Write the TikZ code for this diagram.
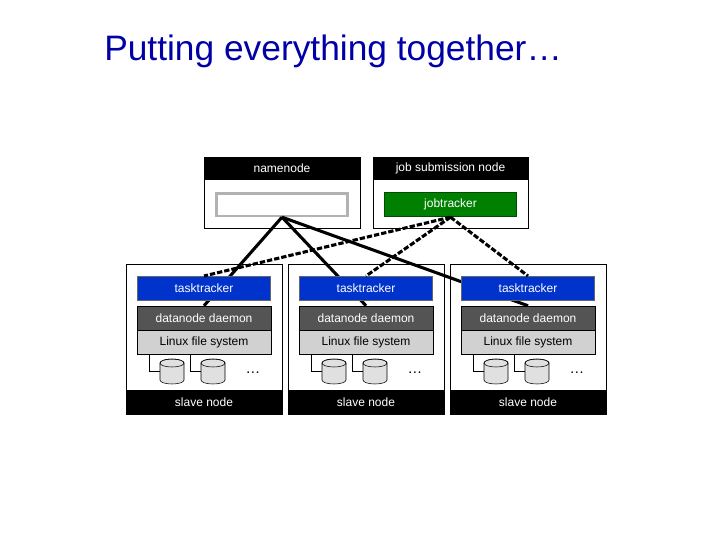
\documentclass[tikz,border=0pt]{standalone}
\usepackage{fontspec}
\setmainfont{Liberation Sans}
\begin{document}
\begin{tikzpicture}[x=0.75pt,y=-0.75pt,
  box/.style={draw=black,fill=white,line width=0.6pt},
  lbl/.style={font=\fontsize{9}{10}\selectfont},
  tt/.style={draw=black!60,fill=blue!75!cyan!80!black,text=white,lbl,line width=0.8pt},
  dn/.style={draw=black,fill=black!67,text=white,lbl},
  lfs/.style={draw=black,fill=black!18,text=black,lbl},
  nn/.style={line width=2.3pt},
  jt/.style={line width=2.3pt,dash pattern=on 4pt off 1.5pt}]
\useasboundingbox (0,0) rectangle (720,540);
\node[anchor=base west,inner sep=0pt,text=blue!65!black,font=\fontsize{26.5}{30}\selectfont] (title) at (104,60) {Putting everything together…};
% namenode
\node[box,minimum width=117pt,minimum height=53.25pt,anchor=north west] (nnbox) at (204,157) {};
\fill[black] (204,157) rectangle (360,180);
\node[text=white,lbl] (nnh) at (282,168) {namenode};
\node[draw=black!30,line width=2pt,fill=white,minimum width=98pt,minimum height=17pt] (nn) at (282,204.5) {};
% job submission
\node[box,minimum width=116.25pt,minimum height=53.25pt,anchor=north west] (jsbox) at (373,157) {};
\fill[black] (373,157) rectangle (528,180);
\node[text=white,lbl] (jsh) at (450.5,168) {job submission node};
\node[draw=green!30!black,line width=1pt,fill=green!50!black,text=white,lbl,minimum width=99pt,minimum height=18pt] (jt) at (450.5,204.5) {jobtracker};
% slaves
\foreach \i/\x in {1/126,2/288,3/450}{
  \node[box,minimum width=117pt,minimum height=112.5pt,anchor=north west] (s\i) at (\x,264) {};
  \fill[black] (\x,390) rectangle (\x+156,414);
  \node[text=white,lbl] (sl\i) at (\x+78,402) {slave node};
  \node[lfs,minimum width=100.5pt,minimum height=18pt] (l\i) at (\x+78,342) {Linux file system};
  \node[dn,minimum width=100.5pt,minimum height=18pt] (d\i) at (\x+78,318) {datanode daemon};
  \foreach \c/\s in {34/23,75/64}{
    \draw (\x+\s,354) |- (\x+\c,371);
    \filldraw[fill=black!12,draw=black] (\x+\c,363) -- (\x+\c,380) arc[start angle=180,end angle=0,x radius=12,y radius=4] -- (\x+\c+24,363) arc[start angle=0,end angle=-180,x radius=12,y radius=4] -- cycle;
    \draw (\x+\c+12,363) ellipse[x radius=12,y radius=4];
  }
  \node[font=\fontsize{11}{11}\selectfont] (dots\i) at (\x+127,373) {…};
}
\foreach \i in {1,2,3}{
  \draw[nn] (nn.south) -- (d\i.north);
}
\foreach \i/\x in {1/126,2/288,3/450}{
  \node[tt,minimum width=100pt,minimum height=18pt] (t\i) at (\x+78,288.5) {tasktracker};
}
\foreach \i in {1,2,3}{
  \draw[jt] (jt.south) -- (t\i.north);
}
\end{tikzpicture}
\end{document}
